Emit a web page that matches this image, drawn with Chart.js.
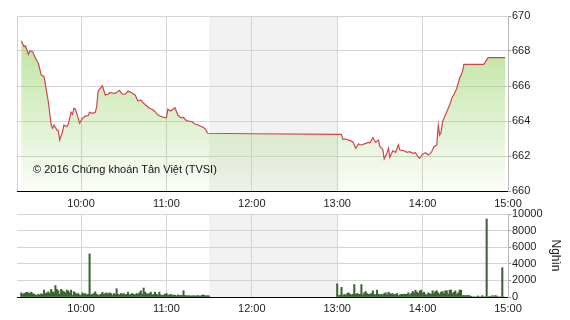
<!DOCTYPE html>
<html>
<head>
<meta charset="utf-8">
<script src="https://cdn.jsdelivr.net/npm/chart.js@4.4.0/dist/chart.umd.min.js"></script>
<style>
  body { margin: 0; width: 570px; height: 320px; background: #fff; overflow: hidden; position: relative; font-family: 'Liberation Sans', Arial, sans-serif; }
  #price { position: absolute; left: 0; top: 0; }
  #volume { position: absolute; left: 0; top: 200px; }
  .copy { position: absolute; left: 33px; top: 163px; font-size: 11px; color: #111; white-space: nowrap; }
</style>
</head>
<body>
<canvas id="price" width="570" height="212"></canvas>
<canvas id="volume" width="570" height="120"></canvas>
<div class="copy">© 2016 Chứng khoán Tân Việt (TVSI)</div>
<script>
// times are minutes after midnight (555 = 9:15, 900 = 15:00)
const timeTicks = [600, 660, 720, 780, 840, 900];
const timeLabels = ['10:00', '11:00', '12:00', '13:00', '14:00', '15:00'];
const lunchBreak = [690, 780];

const priceTimes = [
  558, 560, 561, 563, 564, 566, 568, 569, 570, 572, 574, 575, 577, 579, 580, 581, 583, 584, 585, 587,
  588, 590, 591, 593, 594, 595, 596, 598, 599, 601, 603, 605, 606, 608, 610, 611, 612, 615, 617, 619,
  620, 624, 627, 629, 631, 633, 635, 638, 640, 642, 644, 646, 648, 650, 652, 654, 656, 658, 660, 661,
  663, 666, 668, 670, 672, 674, 678, 680, 682, 685, 687, 689, 720, 783, 784, 786, 789, 791, 793, 795,
  797, 799, 802, 803, 805, 807, 809, 810, 812, 813, 815, 816, 817, 819, 821, 823, 824, 827, 829, 831,
  833, 835, 837, 838, 840, 842, 844, 846, 848, 850, 851, 852, 853, 854, 856, 859, 861, 862, 864, 865,
  866, 868, 869, 883, 886, 898
];
const priceValues = [
  668.57, 668.25, 668.29, 667.81, 668.0, 667.96, 667.58, 667.43, 667.3, 666.63, 666.53, 666.06, 665.1, 663.77, 663.58, 663.77, 663.49, 663.45, 662.91, 663.39,
  663.77, 663.67, 663.81, 664.5, 664.38, 664.72, 664.69, 664.15, 663.87, 664.15, 664.29, 664.3, 664.5, 664.44, 664.5, 664.82, 665.71, 666.02, 665.49, 665.53,
  665.62, 665.58, 665.75, 665.53, 665.53, 665.71, 665.64, 665.49, 665.14, 665.2, 665.01, 664.87, 664.73, 664.67, 664.53, 664.34, 664.27, 664.21, 664.19, 664.67,
  664.57, 664.76, 664.34, 664.19, 664.21, 664.02, 663.96, 663.83, 663.77, 663.67, 663.58, 663.3, 663.27, 663.24, 662.95, 662.97, 662.88, 662.82, 662.44, 662.69,
  662.63, 662.69, 662.78, 662.76, 663.05, 662.78, 662.91, 662.53, 662.38, 661.83, 662.19, 662.44, 661.92, 662.3, 662.21, 662.63, 662.34, 662.3, 662.21, 662.25,
  662.15, 662.19, 661.92, 661.87, 662.1, 662.19, 662.06, 662.19, 662.53, 662.63, 663.77, 663.2, 663.35, 663.96, 664.34, 664.91, 665.39, 665.49, 665.87, 666.15,
  666.44, 666.82, 667.24, 667.24, 667.62, 667.62
];

// volume (thousand shares), one bar per minute
const volMorningStart = 558;
const volMorning = [
  500, 330, 420, 500, 580, 500, 420, 580, 420, 330, 250, 170, 330, 250, 380, 330, 830, 420, 500, 630,
  420, 920, 630, 500, 1380, 920, 750, 330, 920, 750, 630, 500, 830, 750, 500, 830, 210, 630, 500, 330,
  420, 250, 170, 500, 330, 420, 250, 330,
  5200,
  250, 330, 420, 630, 330, 210, 250, 330, 580, 330, 420, 500, 330, 500, 420, 210, 420, 330,
  1000,
  330, 250, 420, 330, 420, 250, 330, 580, 250, 330, 420, 330, 250, 420, 330, 500, 750, 330,
  1080,
  580, 420, 330, 420, 580, 250, 330, 580, 330, 250, 580, 250, 170, 250, 330, 420, 250, 210, 330, 170,
  250, 210, 125, 250, 170, 210, 170,
  750,
  170, 170, 125, 170, 125, 125, 170, 125, 125, 170, 125, 125, 210, 250, 170, 125, 170, 125
];
const volAfternoonStart = 780;
const volAfternoon = [
  1580, 170, 210, 1170, 170, 330, 210, 420, 500, 330, 250, 330, 1500, 330, 420, 330, 330, 1500, 250, 500,
  670, 420, 330, 330, 420, 750, 330, 250, 830, 330, 250, 330, 250, 420, 500, 250, 580, 420, 330, 420,
  250, 330, 420, 170, 250, 330, 330, 330, 330, 330, 500, 250, 420, 670, 500, 830, 580, 420, 750, 830,
  420, 580, 330, 250, 500, 420, 330, 750, 420, 670, 750, 500, 330, 580, 670, 420, 750, 750, 330, 830,
  830, 420, 580, 750, 330, 500, 830, 830, 170, 170,
  170, 170, 170, 170, 80, 0, 0, 0, 0, 125, 0, 0, 170, 0, 0, 9400, 0, 80, 0, 170,
  0, 170, 125, 0, 0, 0, 3530, 0
];

const gridColor = '#d4d4d4';
const fmtTime = (v) => timeLabels[timeTicks.indexOf(v)] || '';

Chart.defaults.font.family = "'Liberation Sans', Arial, sans-serif";
Chart.defaults.font.size = 11;
Chart.defaults.color = '#222';

const sessionBand = {
  id: 'sessionBand',
  beforeDraw(chart, args, opts) {
    const { ctx, chartArea: a, scales: { x } } = chart;
    const x0 = x.getPixelForValue(lunchBreak[0]);
    const x1 = x.getPixelForValue(lunchBreak[1]);
    ctx.save();
    ctx.fillStyle = '#f2f2f2';
    ctx.fillRect(x0, a.top, x1 - x0, a.bottom - a.top);
    if (opts.leftEdge) {
      const lx = Math.round(a.left) + 0.5;
      ctx.strokeStyle = gridColor;
      ctx.lineWidth = 1;
      ctx.beginPath();
      ctx.moveTo(lx, a.top);
      ctx.lineTo(lx, a.bottom);
      ctx.stroke();
    }
    ctx.restore();
  }
};

function xAxis(height, pad) {
  return {
    type: 'linear',
    min: 555,
    max: 900,
    offset: false,
    afterBuildTicks: (s) => { s.ticks = timeTicks.map((v) => ({ value: v })); },
    afterFit: (s) => { s.height = height; },
    grid: { color: gridColor, drawTicks: false, offset: false },
    border: { color: '#000', width: 1 },
    ticks: { padding: pad, maxRotation: 0, autoSkip: false, callback: fmtTime }
  };
}

new Chart(document.getElementById('price'), {
  type: 'line',
  data: {
    datasets: [{
      data: priceTimes.map((t, i) => ({ x: t, y: priceValues[i] })),
      borderColor: '#d0454f',
      borderWidth: 1.2,
      pointRadius: 0,
      tension: 0,
      fill: 'start',
      backgroundColor: (c) => {
        const a = c.chart.chartArea;
        if (!a) return 'rgba(150,210,100,0.3)';
        const g = c.chart.ctx.createLinearGradient(0, a.top, 0, a.bottom);
        g.addColorStop(0, 'rgba(150,210,100,0.7)');
        g.addColorStop(1, 'rgba(150,210,100,0.04)');
        return g;
      }
    }]
  },
  options: {
    responsive: false,
    animation: false,
    devicePixelRatio: 1,
    layout: { padding: { left: 17, top: 16, right: 0, bottom: 0 } },
    plugins: { legend: { display: false }, tooltip: { enabled: false }, sessionBand: { leftEdge: true } },
    scales: {
      x: xAxis(21, 6),
      y: {
        position: 'right',
        min: 660,
        max: 670,
        afterFit: (s) => { s.width = 62; },
        grid: { color: gridColor, tickLength: 3, tickColor: '#999' },
        border: { color: '#bbb' },
        ticks: { stepSize: 2, padding: 1, callback: (v) => String(v) }
      }
    }
  },
  plugins: [sessionBand]
});

const volPoints = volMorning.map((v, i) => ({ x: volMorningStart + i, y: v }))
  .concat(volAfternoon.map((v, i) => ({ x: volAfternoonStart + i, y: v })));

new Chart(document.getElementById('volume'), {
  type: 'bar',
  data: {
    datasets: [{
      data: volPoints,
      backgroundColor: '#3a6530',
      barThickness: 1.4
    }]
  },
  options: {
    responsive: false,
    animation: false,
    devicePixelRatio: 1,
    layout: { padding: { left: 17, top: 14, right: 0, bottom: 0 } },
    plugins: { legend: { display: false }, tooltip: { enabled: false }, sessionBand: { leftEdge: false } },
    scales: {
      x: xAxis(23, 5),
      y: {
        position: 'right',
        min: 0,
        max: 10000,
        afterFit: (s) => { s.width = 62; },
        grid: { color: gridColor, tickLength: 3, tickColor: '#999' },
        border: { color: '#bbb' },
        ticks: { stepSize: 2000, padding: 1, callback: (v) => String(v) },
        title: { display: true, text: 'Nghìn', font: { size: 12 }, color: '#222', padding: { top: 7, bottom: 0 } }
      }
    }
  },
  plugins: [sessionBand]
});
</script>
</body>
</html>
